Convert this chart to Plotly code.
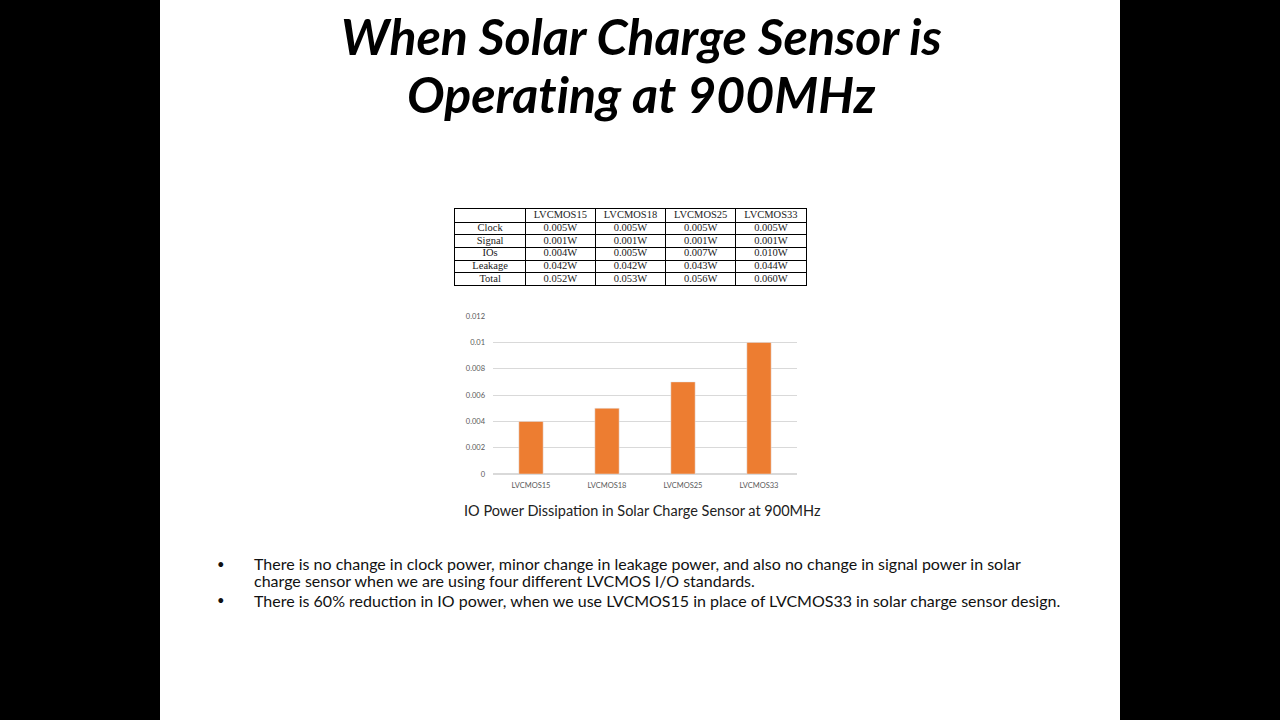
import plotly.graph_objects as go

W, H = 1280, 720

# Table data
standards = ["LVCMOS15", "LVCMOS18", "LVCMOS25", "LVCMOS33"]
row_names = ["Clock", "Signal", "IOs", "Leakage", "Total"]
clock_w = ["0.005W", "0.005W", "0.005W", "0.005W"]
signal_w = ["0.001W", "0.001W", "0.001W", "0.001W"]
ios_w = ["0.004W", "0.005W", "0.007W", "0.010W"]
leakage_w = ["0.042W", "0.042W", "0.043W", "0.044W"]
total_w = ["0.052W", "0.053W", "0.056W", "0.060W"]

# Bar chart data (IO power)
io_power = [0.004, 0.005, 0.007, 0.010]
y_ticks = [0, 0.002, 0.004, 0.006, 0.008, 0.01, 0.012]
y_labels = ["0", "0.002", "0.004", "0.006", "0.008", "0.01", "0.012"]

title_lines = ["When Solar Charge Sensor is", "Operat\u200cing at 900MHz"]
caption = "IO Power Dissipation in Solar Charge Sensor at 900MHz"
bullet1 = ["There is no change in clock power, minor change in leakage power, and also no change in signal power in solar",
           "charge sensor when we are using four different LVCMOS I/O standards."]
bullet2 = ["There is 60% reduction in IO power, when we use LVCMOS15 in place of LVCMOS33 in solar charge sensor design."]


def px_x(v):
    return v / W


def px_y(v):
    return 1 - v / H


fig = go.Figure()

# ---- table drawn on its own axes: one unit per column / row ----
grid = [[""] + standards]
for name, vals in zip(row_names, [clock_w, signal_w, ios_w, leakage_w, total_w]):
    grid.append([name] + vals)

tx, ty, tt = [], [], []
for r, row in enumerate(grid):
    for c, val in enumerate(row):
        tx.append(c + 0.5)
        ty.append(r + 0.5)
        tt.append(val)

fig.add_trace(go.Scatter(
    x=tx, y=ty, text=tt, mode="text", xaxis="x2", yaxis="y2",
    textfont=dict(family="Liberation Serif", size=10.5, color="#222"),
    hoverinfo="skip", showlegend=False,
))

# ---- bar chart ----
fig.add_trace(go.Bar(
    x=standards,
    y=io_power,
    marker=dict(color="#ED7D31"),
    width=0.32,
    showlegend=False,
))

n_cols = len(grid[0])
n_rows = len(grid)

fig.update_layout(
    width=W,
    height=H,
    margin=dict(l=0, r=0, t=0, b=0),
    paper_bgcolor="black",
    plot_bgcolor="white",
    showlegend=False,
    xaxis=dict(
        domain=[px_x(493), px_x(797)],
        tickfont=dict(family="Lato", size=7.5, color="#595959"),
        showline=False,
        showgrid=False,
        ticks="",
        ticklabelstandoff=5,
        fixedrange=True,
    ),
    yaxis=dict(
        domain=[px_y(476), px_y(316)],
        range=[0, 0.012],
        tickvals=y_ticks,
        ticktext=y_labels,
        tickfont=dict(family="Lato", size=7.5, color="#595959"),
        gridcolor="#d9d9d9",
        zeroline=True,
        zerolinecolor="#d9d9d9",
        showline=False,
        ticks="",
        ticklabelstandoff=7,
        fixedrange=True,
    ),
    xaxis2=dict(
        domain=[px_x(455), px_x(806)],
        anchor="y2",
        range=[0, n_cols],
        tickvals=list(range(n_cols + 1)),
        showticklabels=False,
        showgrid=True, gridcolor="black", gridwidth=1,
        zeroline=False,
        showline=True, linecolor="black", mirror=True,
        ticks="",
        fixedrange=True,
    ),
    yaxis2=dict(
        domain=[px_y(285), px_y(208)],
        anchor="x2",
        range=[n_rows, 0],
        tickvals=list(range(n_rows + 1)),
        showticklabels=False,
        showgrid=True, gridcolor="black", gridwidth=1,
        zeroline=False,
        showline=True, linecolor="black", mirror=True,
        ticks="",
        fixedrange=True,
    ),
    shapes=[dict(
        type="rect", xref="paper", yref="paper",
        x0=px_x(160), x1=px_x(1120), y0=-0.05, y1=1.05,
        fillcolor="white", line=dict(width=0), layer="below",
    )],
)

for line, yc in zip(title_lines, [32, 91]):
    fig.add_annotation(
        text="<b><i>" + line + "</i></b>",
        xref="paper", yref="paper", x=px_x(641), y=px_y(yc),
        xanchor="center", yanchor="middle", showarrow=False,
        font=dict(family="Lato", size=50, color="black"),
    )

fig.add_annotation(
    text=caption,
    xref="paper", yref="paper", x=px_x(642), y=px_y(513),
    xanchor="center", yanchor="middle", showarrow=False,
    font=dict(family="Lato", size=14.5, color="#222"),
)

for lines, y0 in [(bullet1, 567), (bullet2, 604)]:
    fig.add_annotation(
        text="•", xref="paper", yref="paper", x=px_x(221), y=px_y(y0),
        xanchor="center", yanchor="middle", showarrow=False,
        font=dict(family="Lato", size=13, color="#111"),
    )
    for k, line in enumerate(lines):
        fig.add_annotation(
            text=line, xref="paper", yref="paper", x=px_x(252), y=px_y(y0 + 16.5 * k),
            xanchor="left", yanchor="middle", align="left", showarrow=False,
            font=dict(family="Lato", size=16, color="#111"),
        )

fig.write_html(
    "out.html",
    config={"displayModeBar": False},
    post_script="document.body.style.margin='0';document.body.style.background='black';",
)
